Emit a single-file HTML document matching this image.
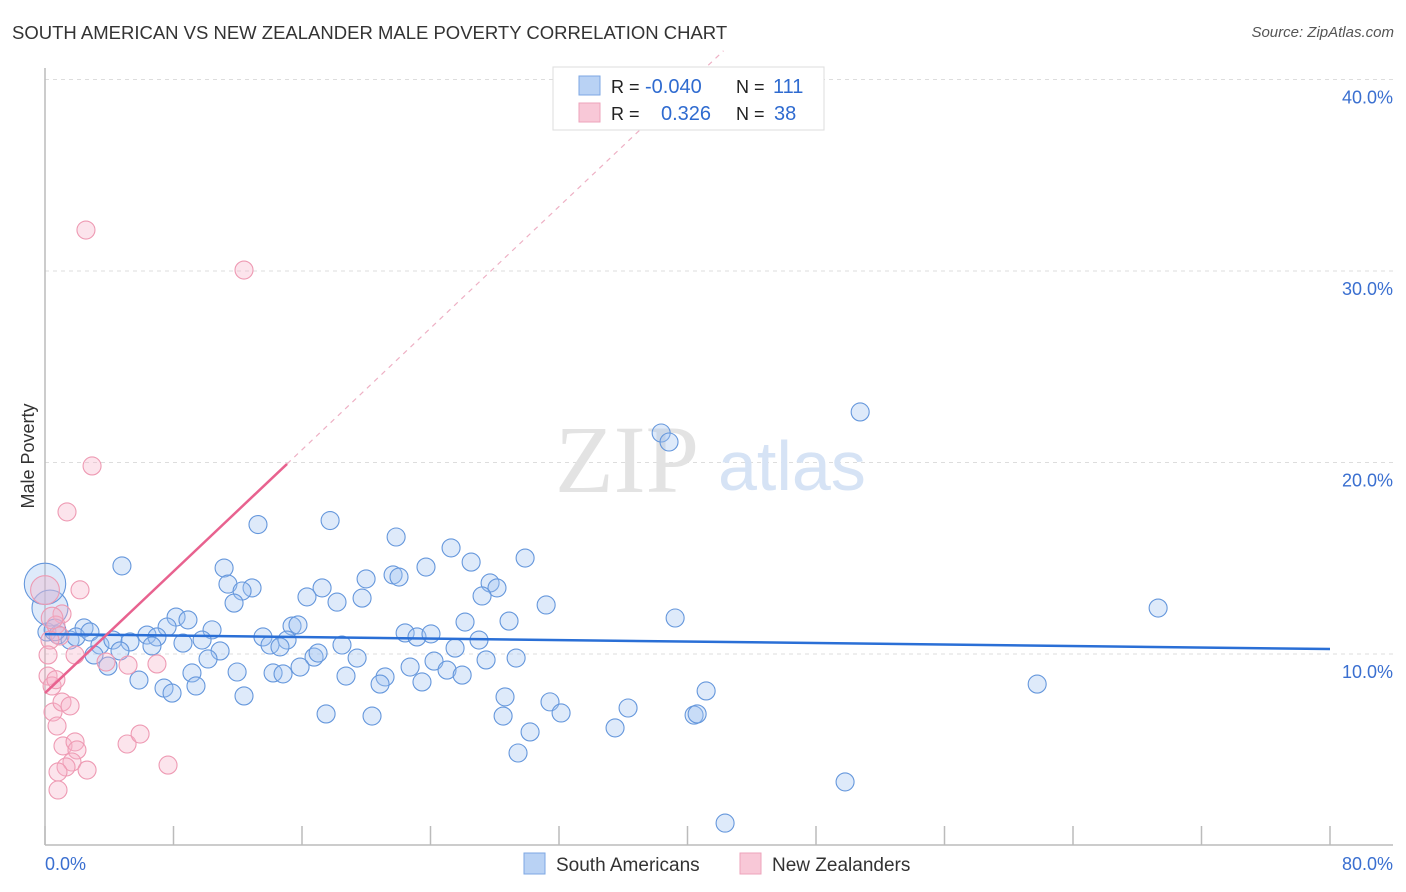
<!DOCTYPE html>
<html><head><meta charset="utf-8">
<style>
body{margin:0;background:#fff;font-family:"Liberation Sans",sans-serif;}
#wrap{position:relative;width:1406px;height:892px;overflow:hidden;}
.t{position:absolute;white-space:nowrap;}
</style></head>
<body>
<div id="wrap">
<div class="t" style="left:12px;top:22px;font-size:18.5px;color:#333;">SOUTH AMERICAN VS NEW ZEALANDER MALE POVERTY CORRELATION CHART</div>
<div class="t" style="right:12px;top:24px;font-size:15px;color:#555;font-style:italic;">Source: ZipAtlas.com</div>
<svg id="chart" width="1406" height="892" style="position:absolute;left:0;top:0"></svg>
</div>
<script>
const yTicks=[10,20,30,40];
const yTickLabels=["10.0%","20.0%","30.0%","40.0%"];
const xTickVals=[0,8,16,24,32,40,48,56,64,72,80];
const xEndLabels=["0.0%","80.0%"];
const blueX=[4.79,13.26,17.75,21.86,25.28,29.89,26.53,23.72,11.15,21.67,19.99,22.04,11.39,12.89,12.27,17.25,27.71,28.14,16.31,19.74,27.21,31.2,11.77,18.18,8.16,8.9,10.4,7.6,15.38,15.75,26.15,28.89,39.23,69.3,50.75,38.36,38.85,2.43,0.12,0.81,1.56,1.93,2.8,3.42,4.23,5.29,6.35,6.97,8.59,9.78,13.57,14.01,15.07,18.49,22.42,23.16,24.03,27.02,25.53,14.63,10.9,6.66,3.05,4.67,10.15,16.75,17.0,19.43,22.73,24.22,27.46,29.33,3.92,15.88,11.96,14.2,14.82,18.74,21.17,25.03,25.97,5.85,9.15,20.86,23.47,7.41,7.91,9.4,12.39,61.77,28.64,31.44,41.16,17.5,20.36,28.52,32.13,36.3,40.41,40.6,30.2,35.49,29.45,49.81,42.34,0.31,0.0,0.62];
const blueY=[14.6,16.76,16.97,16.11,15.54,15.01,14.8,14.54,14.49,14.13,13.92,14.02,13.65,13.45,13.29,13.45,13.71,13.45,12.98,12.92,13.03,12.56,12.66,12.71,11.93,11.78,11.26,11.41,11.46,11.52,11.67,11.72,11.88,12.4,22.64,21.54,21.07,11.36,11.15,11.0,10.73,10.89,11.15,10.47,10.73,10.63,10.99,10.89,10.57,10.73,10.89,10.47,10.73,10.47,11.1,10.89,11.05,10.73,10.31,10.37,10.16,10.42,9.95,10.16,9.74,9.84,10.05,9.79,9.32,9.63,9.69,9.79,9.37,9.32,9.06,9.01,8.96,8.85,8.8,9.16,8.9,8.64,9.01,8.43,8.54,8.22,7.96,8.33,7.81,8.43,7.76,7.5,8.07,6.87,6.76,6.76,6.92,7.18,6.81,6.87,5.93,6.14,4.83,3.32,1.17,12.4,13.66,11.26];
const blueW=[1,1,1,1,1,1,1,1,1,1,1,1,1,1,1,1,1,1,1,1,1,1,1,1,1,1,1,1,1,1,1,1,1,1,1,1,1,1,1,1,1,1,1,1,1,1,1,1,1,1,1,1,1,1,1,1,1,1,1,1,1,1,1,1,1,1,1,1,1,1,1,1,1,1,1,1,1,1,1,1,1,1,1,1,1,1,1,1,1,1,1,1,1,1,1,1,1,1,1,1,1,1,1,1,1,2,2.3,1.2];
const pinkX=[2.55,12.39,2.93,1.37,2.18,1.06,0.68,0.93,0.31,0.19,1.87,3.8,5.17,6.97,0.19,0.44,0.5,0.75,1.06,1.56,1.12,1.87,1.99,1.68,1.31,0.81,2.62,5.11,5.92,7.66,0.81,0.0,0.44,0.68];
const pinkY=[32.14,30.05,19.82,17.42,13.35,12.09,11.51,10.94,10.73,9.95,9.95,9.58,9.42,9.48,8.85,8.33,6.97,6.24,7.49,7.29,5.2,5.41,4.99,4.36,4.1,3.84,3.94,5.3,5.82,4.2,2.9,13.34,11.88,8.66];
const pinkW=[1,1,1,1,1,1,1,1,1,1,1,1,1,1,1,1,1,1,1,1,1,1,1,1,1,1,1,1,1,1,1,1.6,1.2,1];
const blueLine=[11.04,10.26];
const pinkIntercept=7.96, pinkSlope=0.794, pinkSolidEnd=15.07;

const X0=45,X1=1330,Y0=845.5,PXY=19.15;
const sx=v=>X0+(X1-X0)*v/80;
const sy=v=>Y0-v*PXY;
const NS="http://www.w3.org/2000/svg";
const svg=document.getElementById('chart');
function mk(tag,attrs,parent){const e=document.createElementNS(NS,tag);for(const k in attrs)e.setAttribute(k,attrs[k]);(parent||svg).appendChild(e);return e;}

yTicks.forEach((v,i)=>{
  const g=mk('line',{x1:X0,x2:1393,y1:sy(v),y2:sy(v),stroke:'#ddd','stroke-dasharray':'4,4','stroke-width':1});
  
  
  const t=mk('text',{x:1393,y:sy(v)+24,'text-anchor':'end','font-size':18,fill:'#3a6fd0','font-family':'Liberation Sans, sans-serif'});
  t.textContent=yTickLabels[i];
  
  
});
const wm=mk('text',{x:555,y:492,'font-size':96,fill:'#e3e3e3','font-family':'Liberation Serif, serif'});
wm.textContent='ZIP';


const wm2=mk('text',{x:718,y:490,'font-size':70,fill:'#d6e3f5','font-family':'Liberation Sans, sans-serif'});
wm2.textContent='atlas';


const ax=mk('line',{x1:X0,x2:X0,y1:68,y2:845,stroke:'#bbb','stroke-width':1.5});


const bx=mk('line',{x1:X0,x2:1393,y1:845,y2:845,stroke:'#bbb','stroke-width':1.5});


xTickVals.forEach(v=>{
  const t=mk('line',{x1:sx(v),x2:sx(v),y1:826,y2:845,stroke:'#bbb','stroke-width':1.5});
  
  
});
[[0,'start',45],[80,'end',1393]].forEach((d,i)=>{
  const t=mk('text',{x:d[2],y:870,'text-anchor':d[1],'font-size':18,fill:'#3a6fd0','font-family':'Liberation Sans, sans-serif'});
  t.textContent=xEndLabels[i];
  
  
});
function pts(xs,ys,ws,fill,stroke,name){
  xs.forEach((x,i)=>{
    const c=mk('circle',{cx:sx(x),cy:sy(ys[i]),r:9*ws[i],fill:fill,stroke:stroke,'stroke-width':1.1});
    
    
  });
}
pts(blueX,blueY,blueW,'rgba(160,196,240,0.35)','#6597dc','south-american-point');
pts(pinkX,pinkY,pinkW,'rgba(246,178,200,0.35)','#ee9ab3','new-zealander-point');
const bl=mk('line',{x1:sx(0),x2:sx(80),y1:sy(blueLine[0]),y2:sy(blueLine[1]),stroke:'#2a6fd6','stroke-width':2.5});


const pl=mk('line',{x1:sx(0),x2:sx(pinkSolidEnd),y1:sy(pinkIntercept),y2:sy(pinkIntercept+pinkSlope*pinkSolidEnd),stroke:'#e8628f','stroke-width':2.5});


const xEnd=(41.5-pinkIntercept)/pinkSlope;
const pd=mk('line',{x1:sx(pinkSolidEnd),x2:sx(xEnd),y1:sy(pinkIntercept+pinkSlope*pinkSolidEnd),y2:sy(41.5),stroke:'#eeb0c4','stroke-width':1.2,'stroke-dasharray':'5,5'});


const lg=mk('g',{});


mk('rect',{x:553,y:67,width:271,height:63,fill:'#fff',stroke:'#ddd'},lg);
mk('rect',{x:579,y:76,width:21,height:19,fill:'#b9d2f4',stroke:'#7da7e3'},lg);
mk('rect',{x:579,y:103,width:21,height:19,fill:'#f8c8d7',stroke:'#eea3bb'},lg);
const L=[[611,93,'R = ','#222'],[645,93,'-0.040','#2f6bd0'],[736,93,'N = ','#222'],[773,93,'111','#2f6bd0'],[611,120,'R = ','#222'],[661,120,'0.326','#2f6bd0'],[736,120,'N = ','#222'],[774,120,'38','#2f6bd0']];
L.forEach(d=>{const t=mk('text',{x:d[0],y:d[1],'font-size':d[3]=='#222'?18:20,fill:d[3],'font-family':'Liberation Sans, sans-serif'},lg);t.textContent=d[2];

});
const bl2=mk('g',{});


mk('rect',{x:524,y:853,width:21,height:21,fill:'#b9d2f4',stroke:'#7da7e3'},bl2);
mk('rect',{x:740,y:853,width:21,height:21,fill:'#f8c8d7',stroke:'#eea3bb'},bl2);
[[556,'South Americans'],[772,'New Zealanders']].forEach(d=>{const t=mk('text',{x:d[0],y:871,'font-size':19,fill:'#333','font-family':'Liberation Sans, sans-serif'},bl2);t.textContent=d[1];

});
const yt=mk('text',{x:34,y:456,'font-size':18,fill:'#333','text-anchor':'middle',transform:'rotate(-90 34 456)','font-family':'Liberation Sans, sans-serif'});
yt.textContent='Male Poverty';


</script>
</body></html>
